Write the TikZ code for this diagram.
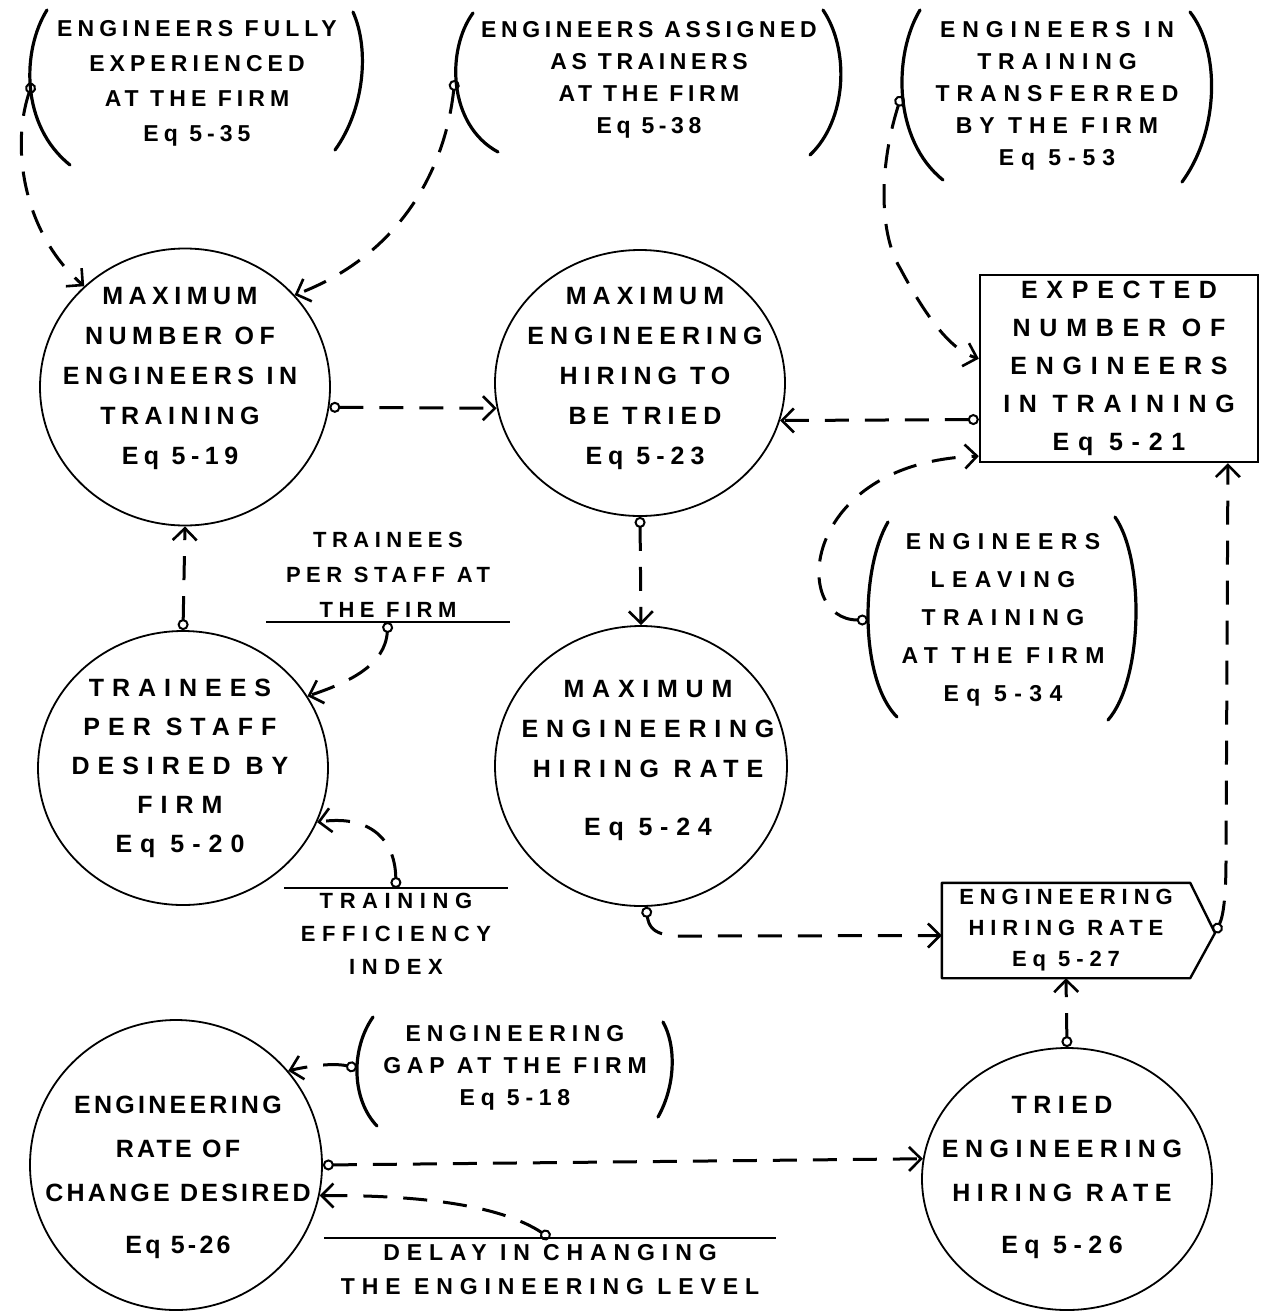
\documentclass[tikz,border=0pt]{standalone}
\usepackage{fontspec}
\setmainfont{Liberation Sans}
\usetikzlibrary{arrows.meta,shapes.geometric}
\newcommand\hwf[3]{\fontsize{#1}{#2}\selectfont\bfseries\addfontfeatures{LetterSpace=#3}}
\begin{document}
\begin{tikzpicture}[x=1pt,y=-1pt,
  lbl/.style={align=center, inner sep=0pt},
  oval/.style={draw, ellipse, line width=1.8pt, inner sep=0pt},
  brk/.style={line width=3.2pt, line cap=round},
  link/.style={line width=3pt, dash pattern=on 24pt off 16pt,
    {Circle[open,length=11pt,width=11pt,line width=2pt]}-{Straight Barb[length=12pt,width=24pt,line width=2.6pt]}},
]
\fill[white] (0,0) rectangle (1261,1312);
\useasboundingbox (0,0) rectangle (1261,1312);

% top bracketed variables
\node[lbl, minimum width=329pt, font=\hwf{23}{35}{22}] (t1) at (197,83) {ENGINEERS FULLY\\EXPERIENCED\\AT THE FIRM\\Eq 5-35};
\draw[brk] (47,10) .. controls (22,50) and (20,125) .. (70,165);
\draw[brk] (353,12) .. controls (370,50) and (364,110) .. (335,150);

\node[lbl, minimum width=388pt, font=\hwf{23}{32}{20}] (t2) at (649,80) {ENGINEERS ASSIGNED\\AS TRAINERS\\AT THE FIRM\\Eq 5-38};
\draw[brk] (473,13) .. controls (446,50) and (448,125) .. (498,152);
\draw[brk] (823,10) .. controls (850,50) and (847,120) .. (810,155);

\node[lbl, minimum width=311pt, font=\hwf{23}{32}{30}] (t3) at (1057,96) {ENGINEERS IN\\TRAINING\\TRANSFERRED\\BY THE FIRM\\Eq 5-53};
\draw[brk] (920,10) .. controls (893,55) and (893,140) .. (943,180);
\draw[brk] (1190,12) .. controls (1220,50) and (1220,130) .. (1182,182);

% circles
\node[oval, minimum width=290pt, minimum height=277pt] (c4) at (185,387) {};
\node[lbl, font=\hwf{25}{40}{22}] (c4t) at (180,378) {MAXIMUM\\NUMBER OF\\ENGINEERS IN\\TRAINING\\Eq 5-19};

\node[oval, minimum width=290pt, minimum height=266pt] (c5) at (640,383) {};
\node[lbl, font=\hwf{25}{40}{24}] (c5t) at (645,378) {MAXIMUM\\ENGINEERING\\HIRING TO\\BE TRIED\\Eq 5-23};

\node[draw, line width=2.4pt, minimum width=278pt, minimum height=187pt, inner sep=0pt, align=center, font=\hwf{25}{38}{35}] (r) at (1119,368.5) {EXPECTED\\NUMBER OF\\ENGINEERS\\IN TRAINING\\Eq 5-21};

\node[lbl, anchor=south, minimum width=243pt, inner ysep=4pt, font=\hwf{22}{35}{25}] (tp) at (388,622) {TRAINEES\\PER STAFF AT\\THE FIRM};
\draw[line width=2pt] (tp.south west) -- (tp.south east);

\node[oval, minimum width=290pt, minimum height=274pt] (c8) at (183,768) {};
\node[lbl, font=\hwf{25}{39}{32}] (c8t) at (180,768) {TRAINEES\\PER STAFF\\DESIRED BY\\FIRM\\Eq 5-20};

\node[oval, minimum width=292pt, minimum height=280pt] (c9) at (641,766) {};
\node[lbl, font=\hwf{25}{40}{31}] (c9t) at (648,760) {MAXIMUM\\ENGINEERING\\HIRING RATE\\[18pt]Eq 5-24};

\node[lbl, minimum width=270pt, font=\hwf{23}{38}{32}] (t10) at (1003,620) {ENGINEERS\\LEAVING\\TRAINING\\AT THE FIRM\\Eq 5-34};
\draw[brk] (888,522) .. controls (860,570) and (860,680) .. (897,717);
\draw[brk] (1115,517) .. controls (1145,560) and (1143,680) .. (1108,720);

\node[lbl, anchor=north, minimum width=223pt, inner ysep=5pt, font=\hwf{22}{33}{30}] (te) at (396,888) {TRAINING\\EFFICIENCY\\INDEX};
\draw[line width=2pt] (te.north west) -- (te.north east);

\node[lbl, minimum width=248pt, minimum height=95pt, font=\hwf{22}{31}{27}] (p) at (1066,930.5) {ENGINEERING\\HIRING RATE\\Eq 5-27};
\coordinate (ptip) at (1215,933);
\draw[line width=2.4pt, line join=round] (p.north west) -- (p.north east) -- (ptip) -- (p.south east) -- (p.south west) -- cycle;

\node[lbl, minimum width=316pt, font=\hwf{23}{32}{25}] (t13) at (515,1068) {ENGINEERING\\GAP AT THE FIRM\\Eq 5-18};
\draw[brk] (373,1017) .. controls (350,1050) and (352,1100) .. (377,1126);
\draw[brk] (663,1022) .. controls (676,1045) and (676,1085) .. (658,1117);

\node[oval, minimum width=292pt, minimum height=290pt] (c14) at (176,1165) {};
\node[lbl, font=\hwf{25}{44}{13}] (c14t) at (178,1177) {ENGINEERING\\RATE OF\\CHANGE DESIRED\\[8pt]Eq 5-26};

\node[oval, minimum width=290pt, minimum height=262pt] (c15) at (1067,1179) {};
\node[lbl, font=\hwf{25}{44}{26}] (c15t) at (1062,1177) {TRIED\\ENGINEERING\\HIRING RATE\\[8pt]Eq 5-26};

\node[lbl, anchor=north, minimum width=451pt, inner ysep=6pt, font=\hwf{23}{34}{30}] (dl) at (550,1238) {DELAY IN CHANGING\\THE ENGINEERING LEVEL};
\draw[line width=2pt] (dl.north west) -- (dl.north east);

% connectors
\draw[link] (t1.west) .. controls (10,150) and (25,235) .. (c4.135);
\draw[link] (t2.west) .. controls (445,170) and (400,255) .. (c4.40);
\draw[link] (t3.west) .. controls (878,170) and (880,235) .. (900,268) .. controls (925,315) and (950,350) .. (r.176);
\draw[link] (c4.-8) -- (c5.190);
\draw[link] (r.200) -- (c5.-15);
\draw[link] (t10.west) .. controls (790,620) and (800,462) .. (r.212);
\draw[link] (c5.south) -- (c9.north);
\draw[link] (c8.north) -- (c4.south);
\draw[link] (tp.south) .. controls (385,665) and (350,682) .. (c8.30);
\draw[link] (te.north) .. controls (395,835) and (365,815) .. (c8.-22);
\draw[link] (c9.-88) .. controls (650,935) and (665,937) .. (700,936) -- ([yshift=-5pt]p.west);
\draw[link] (ptip) .. controls (1224,915) and (1226,890) .. (1226,860) -- (r.-41);
\draw[link] (c15.north) -- (p.south);
\draw[link] (t13.west) .. controls (330,1062) and (300,1068) .. (c14.40);
\draw[link] (c14.east) -- (c15.172);
\draw[link] (dl.north) .. controls (500,1205) and (420,1195) .. (c14.-12);
\end{tikzpicture}
\end{document}
